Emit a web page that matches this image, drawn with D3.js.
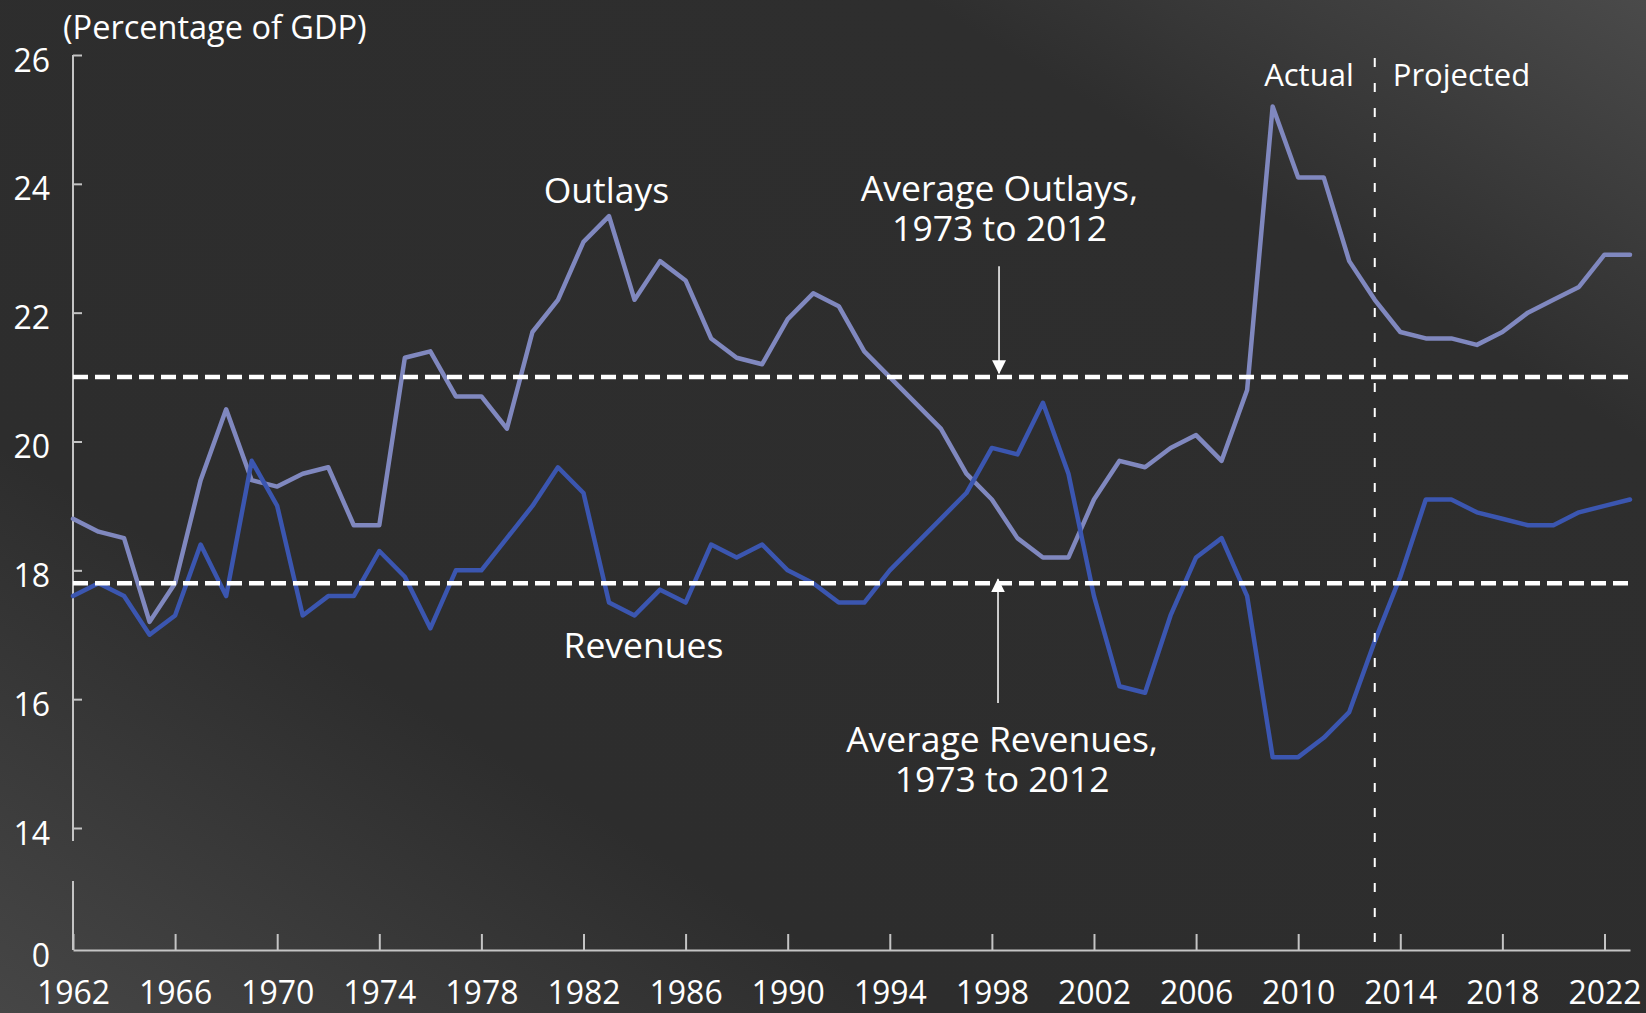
<!DOCTYPE html>
<html>
<head>
<meta charset="utf-8">
<script src="https://cdn.jsdelivr.net/npm/d3@7"></script>
<style>
  html, body { margin: 0; padding: 0; background: #2d2d2d; overflow: hidden; }
  svg text { font-family: "Open Sans", sans-serif; fill: #ffffff; }
</style>
</head>
<body>
<div id="chart"></div>
<script>
// Daten (Prozent des BIP), 1962 bis 2023
const years = d3.range(1962, 2024);
const outlays = [
  18.8, 18.6, 18.5, 17.2, 17.8, 19.4, 20.5, 19.4, 19.3, 19.5,
  19.6, 18.7, 18.7, 21.3, 21.4, 20.7, 20.7, 20.2, 21.7, 22.2,
  23.1, 23.5, 22.2, 22.8, 22.5, 21.6, 21.3, 21.2, 21.9, 22.3,
  22.1, 21.4, 21.0, 20.6, 20.2, 19.5, 19.1, 18.5, 18.2, 18.2,
  19.1, 19.7, 19.6, 19.9, 20.1, 19.7, 20.8, 25.2, 24.1, 24.1,
  22.8, 22.2, 21.7, 21.6, 21.6, 21.5, 21.7, 22.0, 22.2, 22.4,
  22.9, 22.9
];
const revenues = [
  17.6, 17.8, 17.6, 17.0, 17.3, 18.4, 17.6, 19.7, 19.0, 17.3,
  17.6, 17.6, 18.3, 17.9, 17.1, 18.0, 18.0, 18.5, 19.0, 19.6,
  19.2, 17.5, 17.3, 17.7, 17.5, 18.4, 18.2, 18.4, 18.0, 17.8,
  17.5, 17.5, 18.0, 18.4, 18.8, 19.2, 19.9, 19.8, 20.6, 19.5,
  17.6, 16.2, 16.1, 17.3, 18.2, 18.5, 17.6, 15.1, 15.1, 15.4,
  15.8, 16.9, 17.9, 19.1, 19.1, 18.9, 18.8, 18.7, 18.7, 18.9,
  19.0, 19.1
];
const xTicks = [1962, 1966, 1970, 1974, 1978, 1982, 1986, 1990, 1994, 1998, 2002, 2006, 2010, 2014, 2018, 2022];
const yTicks = [0, 14, 16, 18, 20, 22, 24, 26];
const avgOutlays = 21.0;
const avgRevenues = 17.8;
const splitYear = 2013;

// Beschriftungen (Position in Jahr / Wert)
const labels = [
  { lines: ["Outlays"], year: 1982.9, value: 23.7, anchor: "middle" },
  { lines: ["Average Outlays,", "1973 to 2012"], year: 1998.3, value: 23.73, anchor: "middle" },
  { lines: ["Revenues"], year: 1984.35, value: 16.64, anchor: "middle" },
  { lines: ["Average Revenues,", "1973 to 2012"], year: 1998.4, value: 15.18, anchor: "middle" }
];
const arrows = [
  { year: 1998.28, from: 22.72, to: avgOutlays + 0.06 },
  { year: 1998.24, from: 15.94, to: avgRevenues + 0.06 }
];

const W = 1646, H = 1013;
const colorOutlays = "#8088bf";
const colorRevenues = "#3b56b0";
const axisColor = "#c4c4c4";

const svg = d3.select("#chart").append("svg")
  .attr("width", W)
  .attr("height", H);

// Hintergrund mit Verlauf
const defs = svg.append("defs");
const grad = defs.append("linearGradient")
  .attr("id", "bg")
  .attr("x1", 1).attr("y1", 0).attr("x2", 0).attr("y2", 1);
grad.append("stop").attr("offset", "0%").attr("stop-color", "#4a4a4a");
grad.append("stop").attr("offset", "22%").attr("stop-color", "#2e2e2e");
grad.append("stop").attr("offset", "72%").attr("stop-color", "#2d2d2d");
grad.append("stop").attr("offset", "100%").attr("stop-color", "#464646");
svg.append("rect").attr("width", W).attr("height", H).attr("fill", "url(#bg)");

defs.append("marker")
  .attr("id", "arrow")
  .attr("markerUnits", "userSpaceOnUse")
  .attr("viewBox", "0 0 14 14")
  .attr("refX", 13).attr("refY", 7)
  .attr("markerWidth", 14).attr("markerHeight", 14)
  .attr("orient", "auto")
  .append("path")
  .attr("d", "M0,0 L14,7 L0,14 Z")
  .attr("fill", "#ffffff");

// Skalen
const x = d3.scaleLinear().domain([1962, 2023]).range([73, 1630]);
const y = d3.scaleLinear().domain([0, 14, 26]).range([950, 828, 55]);

// X-Achse
const xAxis = svg.append("g")
  .attr("transform", `translate(0,${y(0)})`)
  .call(d3.axisBottom(x)
    .tickValues(xTicks)
    .tickFormat(d3.format("d"))
    .tickSize(-16)
    .tickSizeOuter(0)
    .tickPadding(31));
xAxis.attr("font-size", null).attr("font-family", null);
xAxis.selectAll("path, line").attr("stroke", axisColor).attr("stroke-width", 2);
xAxis.selectAll("text").attr("font-size", "32px").attr("fill", "#ffffff");

// Y-Achse (mit Bruch zwischen 0 und 14)
const yAxis = svg.append("g")
  .attr("transform", `translate(${x(1962)},0)`)
  .call(d3.axisLeft(y)
    .tickValues(yTicks)
    .tickSize(-9)
    .tickPadding(23));
yAxis.attr("font-size", null).attr("font-family", null);
yAxis.select(".domain").remove();
yAxis.selectAll("line").attr("stroke", axisColor).attr("stroke-width", 2);
yAxis.selectAll(".tick").filter(d => d === 0).select("line").remove();
yAxis.selectAll("text").attr("font-size", "32px").attr("dy", "0.5em").attr("fill", "#ffffff");

const breakTop = y(14) + 13, breakBottom = y(0) - 69;
[[y(26), breakTop], [breakBottom, y(0)]].forEach(([a, b]) => {
  svg.append("line")
    .attr("x1", x(1962)).attr("x2", x(1962))
    .attr("y1", a).attr("y2", b)
    .attr("stroke", axisColor).attr("stroke-width", 2);
});

// Linien
const line = d3.line()
  .x((d, i) => x(years[i]))
  .y(d => y(d));

svg.append("path")
  .datum(outlays)
  .attr("d", line)
  .attr("fill", "none")
  .attr("stroke", colorOutlays)
  .attr("stroke-width", 4.5)
  .attr("stroke-linejoin", "round")
  .attr("stroke-linecap", "round");

svg.append("path")
  .datum(revenues)
  .attr("d", line)
  .attr("fill", "none")
  .attr("stroke", colorRevenues)
  .attr("stroke-width", 4.5)
  .attr("stroke-linejoin", "round")
  .attr("stroke-linecap", "round");

// Durchschnittslinien
svg.selectAll(".avg")
  .data([avgOutlays, avgRevenues])
  .join("line")
  .attr("class", "avg")
  .attr("x1", x(1962)).attr("x2", x(2023))
  .attr("y1", d => y(d)).attr("y2", d => y(d))
  .attr("stroke", "#ffffff")
  .attr("stroke-width", 4.5)
  .attr("stroke-dasharray", "15,7");

// Trennlinie Actual / Projected
svg.append("line")
  .attr("x1", x(splitYear)).attr("x2", x(splitYear))
  .attr("y1", y(26) + 3).attr("y2", y(0))
  .attr("stroke", "#ffffff")
  .attr("stroke-width", 2)
  .attr("stroke-dasharray", "9,16");

svg.append("text")
  .attr("x", x(splitYear) - 21).attr("y", y(25.52))
  .attr("text-anchor", "end")
  .attr("font-size", "31px")
  .text("Actual");
svg.append("text")
  .attr("x", x(splitYear) + 18).attr("y", y(25.52))
  .attr("text-anchor", "start")
  .attr("font-size", "31px")
  .text("Projected");

// Einheit
svg.append("text")
  .attr("x", 63).attr("y", 39)
  .attr("font-size", "32.5px")
  .text("(Percentage of GDP)");

// Pfeile
svg.selectAll(".arrow")
  .data(arrows)
  .join("line")
  .attr("class", "arrow")
  .attr("x1", d => x(d.year)).attr("x2", d => x(d.year))
  .attr("y1", d => y(d.from)).attr("y2", d => y(d.to))
  .attr("stroke", "#ffffff")
  .attr("stroke-width", 1.5)
  .attr("marker-end", "url(#arrow)");

// Beschriftungen
labels.forEach(l => {
  const t = svg.append("text")
    .attr("x", x(l.year))
    .attr("y", y(l.value))
    .attr("text-anchor", l.anchor)
    .attr("font-size", "35.5px");
  l.lines.forEach((s, i) => {
    t.append("tspan")
      .attr("x", x(l.year))
      .attr("dy", i === 0 ? 0 : 40)
      .text(s);
  });
});
</script>
</body>
</html>
